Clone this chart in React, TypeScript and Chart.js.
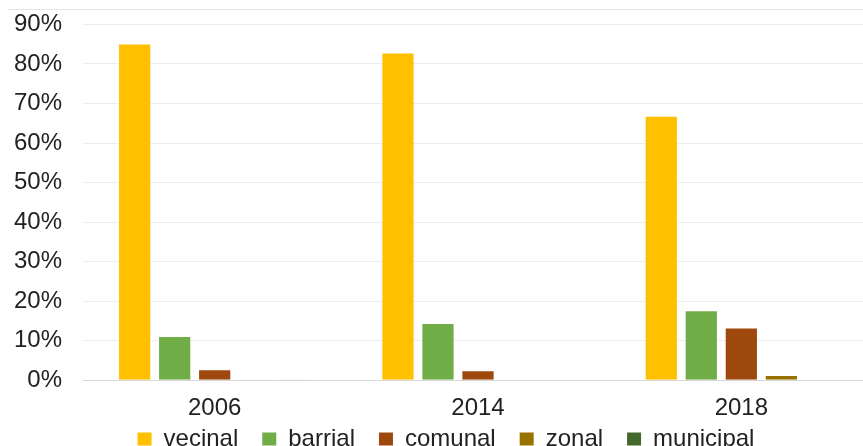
import React, { useEffect, useRef } from "react";
import { Chart, registerables } from "chart.js";

Chart.register(...registerables);

const categories = ["2006", "2014", "2018"];
const seriesNames = ["vecinal", "barrial", "comunal", "zonal", "municipal"];
const vecinal = [85.2, 82.9, 66.9];
const barrial = [11.2, 14.5, 17.7];
const comunal = [2.8, 2.5, 13.3];
const zonal = [0.2, 0, 1.3];
const municipal = [0.2, 0, 0];
const colors = ["#FFC000", "#70AD47", "#9E480E", "#997300", "#43682B"];
const yTicks = [0, 10, 20, 30, 40, 50, 60, 70, 80, 90];

const FONT = "Liberation Sans, Arial, sans-serif";
const SHIFT_Y = 11;

const topLine = {
  id: "topLine",
  beforeDraw(chart: any) {
    const ctx = chart.ctx;
    ctx.save();
    ctx.strokeStyle = "#e6e6e6";
    ctx.lineWidth = 1;
    ctx.beginPath();
    ctx.moveTo(8, 9.5 + SHIFT_Y);
    ctx.lineTo(chart.width, 9.5 + SHIFT_Y);
    ctx.stroke();
    ctx.restore();
  },
};

const legendShift = {
  id: "legendShift",
  afterLayout(chart: any) {
    if (chart.legend) {
      chart.legend.left += 13;
      chart.legend.right += 13;
    }
  },
};

export default function App() {
  const ref = useRef<HTMLCanvasElement | null>(null);
  useEffect(() => {
    document.body.style.margin = "0";
    const values = [vecinal, barrial, comunal, zonal, municipal];
    const chart = new Chart(ref.current!, {
      type: "bar",
      data: {
        labels: categories,
        datasets: seriesNames.map((name, i) => ({
          label: name,
          data: values[i],
          backgroundColor: colors[i],
          borderColor: "rgba(255,255,255,0.6)",
          borderWidth: 1,
          categoryPercentage: 0.76,
          barPercentage: 0.83,
        })),
      },
      options: {
        animation: false,
        responsive: false,
        maintainAspectRatio: false,
        layout: { padding: { left: -7, right: 33, top: 0, bottom: 0 } },
        plugins: {
          tooltip: { enabled: false },
          legend: {
            position: "bottom",
            labels: {
              font: { family: FONT, size: 24 },
              color: "#222",
              boxWidth: 14,
              boxHeight: 13,
              padding: 4,
              generateLabels: (chart: any) => {
                const items = Chart.defaults.plugins.legend.labels.generateLabels(chart);
                return items.map((it: any, i: number) => ({
                  ...it,
                  text: i < items.length - 1 ? it.text + "   " : it.text,
                  lineWidth: 0,
                }));
              },
            },
          },
        },
        scales: {
          x: {
            grid: { display: false, drawTicks: false },
            border: { display: false },
            ticks: {
              font: { family: FONT, size: 24 },
              color: "#222",
              padding: 14,
            },
            afterFit: (s: any) => {
              s.height = s.height - 14;
            },
          },
          y: {
            min: 0,
            max: 90,
            afterBuildTicks: (axis: any) => {
              axis.ticks = yTicks.map((v) => ({ value: v }));
            },
            grid: {
              color: (c: any) => (c.tick && c.tick.value === 0 ? "#d9d9d9" : "#ececec"),
              drawTicks: false,
            },
            border: { display: false },
            ticks: {
              font: { family: FONT, size: 24 },
              color: "#222",
              padding: 21,
              callback: (v: any) => v + "%",
            },
          },
        },
      },
      plugins: [topLine, legendShift],
    });
    return () => chart.destroy();
  }, []);
  return (
    <div style={{ position: "fixed", left: 0, top: 0, width: 863, height: 446, overflow: "hidden", background: "#fff" }}>
      <canvas ref={ref} width={906} height={472} style={{ display: "block", position: "absolute", left: 0, top: -SHIFT_Y }} />
    </div>
  );
}
